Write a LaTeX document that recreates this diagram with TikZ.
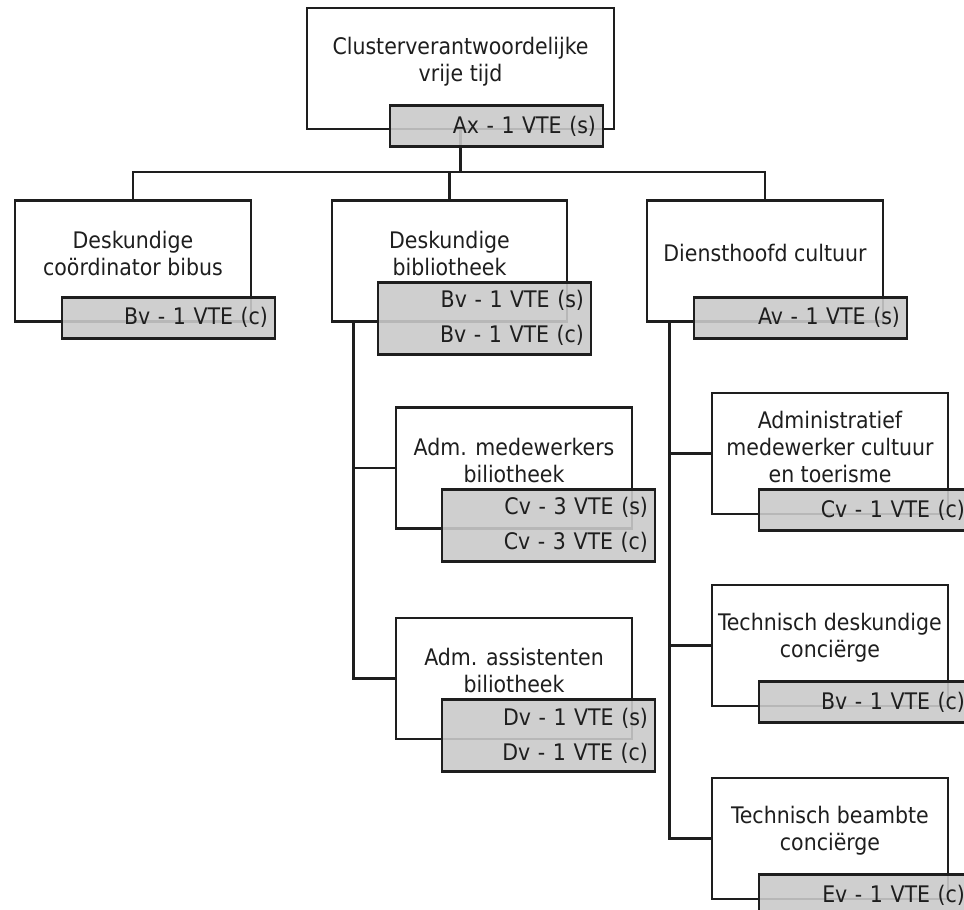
\documentclass[tikz,border=0pt]{standalone}
\usepackage{fontspec}
\setmainfont{DejaVu Sans Condensed}
\usetikzlibrary{calc}
\definecolor{ink}{HTML}{1E1E1E}
\definecolor{tagfill}{RGB}{202,202,202}

\begin{document}
\begin{tikzpicture}[x=1pt,y=-1pt,
  every node/.style={font=\fontsize{22.8}{27}\selectfont, text=ink},
  post/.style={rectangle, draw=ink, line width=2.7pt, fill=white,
    minimum width=236pt, minimum height=121pt, inner sep=0pt},
  title/.style={align=center, inner sep=0pt},
  tag/.style={rectangle, draw=ink, line width=2.7pt, fill=tagfill,
    fill opacity=0.89, draw opacity=1, text opacity=1,
    text width=199pt, align=right, inner xsep=7pt, inner ysep=0pt,
    minimum height=41pt, anchor=north west},
  tagtwo/.style={tag, minimum height=72pt, font=\fontsize{22.8}{35}\selectfont},
  link/.style={draw=ink, line width=2.7pt}
]
\path[use as bounding box, fill=white] (0,0) rectangle (964,910);

% position boxes
\node[post, minimum width=307pt] (top) at (460.5,68.5) {};
\node[post] (b1) at (133,261) {};
\node[post, minimum width=235pt] (b2) at (449.5,261) {};
\node[post] (b3) at (765,261) {};
\node[post] (m1) at (514,468) {};
\node[post] (m2) at (514,678.5) {};
\node[post] (r1) at (830,453.5) {};
\node[post] (r2) at (830,645.5) {};
\node[post] (r3) at (830,838.5) {};

% position titles
\node[title] (top-t) at ($(top)+(0,-7)$) {Clusterverantwoordelijke\\vrije tijd};
\node[title] (b1-t) at ($(b1)+(0,-7.5)$) {Deskundige\\coördinator bibus};
\node[title] (b2-t) at ($(b2)+(0,-7.5)$) {Deskundige\\bibliotheek};
\node[title] (b3-t) at ($(b3)+(0,-8)$) {Diensthoofd cultuur};
\node[title] (m1-t) at ($(m1)+(0,-8)$) {Adm. medewerkers\\biliotheek};
\node[title] (m2-t) at ($(m2)+(0,-8)$) {Adm. assistenten\\biliotheek};
\node[title] (r1-t) at ($(r1)+(0,-7)$) {Administratief\\medewerker cultuur\\en toerisme};
\node[title] (r2-t) at ($(r2)+(0,-8)$) {Technisch deskundige\\conciërge};
\node[title] (r3-t) at ($(r3)+(0,-8)$) {Technisch beambte\\conciërge};

% reporting lines
\coordinate (bus) at (0,172);
\draw[link] (top.south) -- (top.south |- bus);
\draw[link] (b1.north) |- (b3.north |- bus) -- (b3.north);
\draw[link] (b2.north) -- (b2.north |- bus);

\coordinate (b2s) at ($(b2.south west)+(23,0)$);
\draw[link] (b2s) |- (m2.west);
\draw[link] (b2s |- m1.west) -- (m1.west);

\coordinate (b3s) at ($(b3.south west)+(24,0)$);
\draw[link] (b3s) |- (r3.west);
\draw[link] (b3s |- r1.west) -- (r1.west);
\draw[link] (b3s |- r2.west) -- (r2.west);

% staffing tags
\node[tag] (top-g) at ($(top.south west)+(83,-26)$) {Ax - 1 VTE (s)};
\node[tag] (b1-g) at ($(b1.south west)+(47,-27)$) {Bv - 1 VTE (c)};
\node[tagtwo] (b2-g) at ($(b2.south west)+(46,-42)$) {Bv - 1 VTE (s)\\Bv - 1 VTE (c)};
\node[tag] (b3-g) at ($(b3.south west)+(47,-27)$) {Av - 1 VTE (s)};
\node[tagtwo] (m1-g) at ($(m1.south west)+(46,-42)$) {Cv - 3 VTE (s)\\Cv - 3 VTE (c)};
\node[tagtwo] (m2-g) at ($(m2.south west)+(46,-42)$) {Dv - 1 VTE (s)\\Dv - 1 VTE (c)};
\node[tag] (r1-g) at ($(r1.south west)+(47,-27)$) {Cv - 1 VTE (c)};
\node[tag] (r2-g) at ($(r2.south west)+(47,-27)$) {Bv - 1 VTE (c)};
\node[tag] (r3-g) at ($(r3.south west)+(47,-27)$) {Ev - 1 VTE (c)};
\end{tikzpicture}
\end{document}
